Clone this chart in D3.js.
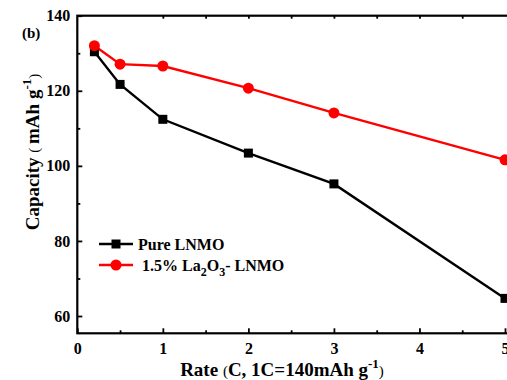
<!DOCTYPE html>
<html>
<head>
<meta charset="utf-8">
<script src="https://cdn.jsdelivr.net/npm/d3@7"></script>
<style>
body { margin: 0; background: #fff; }
svg text { font-family: "Liberation Serif", "Times New Roman", serif; font-weight: bold; }
</style>
</head>
<body>
<div id="chart"></div>
<script>
// rates (C) and capacities (mAh/g)
var rates = [0.2, 0.5, 1, 2, 3, 5];
var pureLNMO = [130.4, 121.7, 112.4, 103.4, 95.2, 64.7];
var laLNMO = [132.0, 127.1, 126.6, 120.7, 114.1, 101.6];
var xTicks = [0, 1, 2, 3, 4, 5];
var yTicks = [60, 80, 100, 120, 140];

var width = 507, height = 380;
var svg = d3.select("#chart").append("svg")
    .attr("width", width)
    .attr("height", height);

var x = d3.scaleLinear().domain([0, 5]).range([77.3, 505]);
var y = d3.scaleLinear().domain([55.4, 140]).range([333.3, 15.7]);

// frame
svg.append("rect")
    .attr("x", x(0)).attr("y", y(140))
    .attr("width", x(5.05) - x(0)).attr("height", y(55.4) - y(140))
    .attr("fill", "none").attr("stroke", "#000").attr("stroke-width", 2.2);

// x axis (ticks inside)
svg.append("g").attr("transform", "translate(0," + y(55.4) + ")")
    .call(d3.axisBottom(x).tickValues(xTicks).tickSize(-5).tickPadding(9).tickFormat(d3.format("d")));
svg.append("g").attr("transform", "translate(0," + y(55.4) + ")")
    .call(d3.axisBottom(x).tickValues([0.5, 1.5, 2.5, 3.5, 4.5]).tickSize(-3).tickFormat(""));

svg.append("g").attr("transform", "translate(" + x(0) + ",0)")
    .call(d3.axisLeft(y).tickValues(yTicks).tickSize(-5).tickPadding(7).tickFormat(d3.format("d")));
svg.append("g").attr("transform", "translate(" + x(0) + ",0)")
    .call(d3.axisLeft(y).tickValues([70, 90, 110, 130]).tickSize(-3).tickFormat(""));

// top minor ticks
svg.append("g").attr("transform", "translate(0," + y(140) + ")")
    .call(d3.axisTop(x).tickValues([1, 1.5, 2, 2.5, 3, 3.5, 4, 4.5]).tickSize(-3).tickFormat(""));

svg.selectAll(".domain").remove();
svg.selectAll(".tick line").attr("stroke", "#000").attr("stroke-width", 1.8);
svg.selectAll(".tick text").attr("fill", "#000").style("font-size", "16px");

// lines
var line = d3.line()
    .x(function (d, i) { return x(rates[i]); })
    .y(function (d) { return y(d); });

svg.append("path").datum(pureLNMO)
    .attr("d", line).attr("fill", "none").attr("stroke", "#000").attr("stroke-width", 2.4);
svg.append("path").datum(laLNMO)
    .attr("d", line).attr("fill", "none").attr("stroke", "#ff0000").attr("stroke-width", 2.4);

svg.selectAll(".sq").data(pureLNMO).enter().append("rect")
    .attr("x", function (d, i) { return x(rates[i]) - 4.5; })
    .attr("y", function (d) { return y(d) - 4.5; })
    .attr("width", 9).attr("height", 9).attr("fill", "#000");
svg.selectAll(".dot").data(laLNMO).enter().append("circle")
    .attr("cx", function (d, i) { return x(rates[i]); })
    .attr("cy", function (d) { return y(d); })
    .attr("r", 5.5).attr("fill", "#ff0000");

// legend
var lg = svg.append("g").attr("transform", "translate(99,244)");
lg.append("line").attr("x1", 0).attr("x2", 34).attr("y1", 0).attr("y2", 0)
    .attr("stroke", "#000").attr("stroke-width", 2.4);
lg.append("rect").attr("x", 12.5).attr("y", -4.5).attr("width", 9).attr("height", 9).attr("fill", "#000");
lg.append("text").attr("x", 39).attr("y", 6).style("font-size", "16px").text("Pure LNMO");
lg.append("line").attr("x1", 0).attr("x2", 34).attr("y1", 21).attr("y2", 21)
    .attr("stroke", "#ff0000").attr("stroke-width", 2.4);
lg.append("circle").attr("cx", 17).attr("cy", 21).attr("r", 5.5).attr("fill", "#ff0000");
var t2 = lg.append("text").attr("x", 43).attr("y", 27).style("font-size", "16px");
t2.append("tspan").text("1.5% La");
t2.append("tspan").attr("dy", 5).style("font-size", "12px").text("2");
t2.append("tspan").attr("dy", -5).text("O");
t2.append("tspan").attr("dy", 5).style("font-size", "12px").text("3");
t2.append("tspan").attr("dy", -5).text("- LNMO");

// panel label
svg.append("text").attr("x", 22).attr("y", 38).style("font-size", "15px").text("(b)");

// axis titles
var xt = svg.append("text").attr("x", 282).attr("y", 376).attr("text-anchor", "middle").style("font-size", "19px");
xt.append("tspan").text("Rate ");
xt.append("tspan").style("font-weight", "normal").style("font-size", "15px").text("(");
xt.append("tspan").text("C, 1C=140mAh g");
xt.append("tspan").attr("dy", -8).style("font-size", "13px").text("-1");
xt.append("tspan").attr("dy", 8).style("font-weight", "normal").style("font-size", "15px").text(")");

var yt = svg.append("text").attr("transform", "translate(39,152) rotate(-90)")
    .attr("text-anchor", "middle").style("font-size", "19px");
yt.append("tspan").text("Capacity ");
yt.append("tspan").style("font-weight", "normal").style("font-size", "15px").text("( ");
yt.append("tspan").text("mAh g");
yt.append("tspan").attr("dy", -8).style("font-size", "13px").text("-1");
yt.append("tspan").attr("dy", 8).style("font-weight", "normal").style("font-size", "15px").text(")");
</script>
</body>
</html>
